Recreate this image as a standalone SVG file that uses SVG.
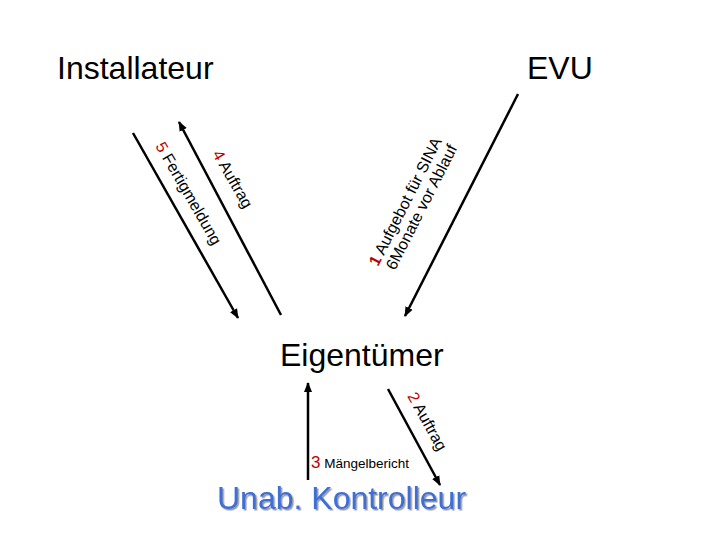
<svg xmlns="http://www.w3.org/2000/svg" width="720" height="540" viewBox="0 0 720 540">
<defs>
<marker id="ah" markerWidth="10" markerHeight="10" refX="9" refY="5" orient="auto" markerUnits="userSpaceOnUse"><path d="M0,1 L10,5 L0,9 Z" fill="#000"/></marker>
<filter id="sh"><feDropShadow dx="1.5" dy="1.5" stdDeviation="0.5" flood-color="#999"/></filter>
</defs>
<style>
text{font-family:"Liberation Sans",Arial,sans-serif}
.big{font-size:32px;fill:#000}
.lbl{font-size:16px;fill:#000}
.num{fill:#c00000}
line{stroke:#000;stroke-width:2.5}
</style>
<rect width="720" height="540" fill="#fff"/>
<g id="installateur"><text class="big" x="57" y="79">Installateur</text></g>
<g id="evu"><text class="big" x="527" y="79">EVU</text></g>
<g id="eigentuemer"><text class="big" x="280" y="366" font-size="29">Eigentümer</text></g>
<g id="kontrolleur"><text x="217" y="509" font-size="32" fill="#3a6fd8" filter="url(#sh)">Unab. Kontrolleur</text></g>
<g id="connectors">
<line x1="518" y1="94" x2="405" y2="316" marker-end="url(#ah)"/>
<line x1="133" y1="133" x2="238" y2="318" marker-end="url(#ah)"/>
<line x1="281" y1="315" x2="179" y2="122" marker-end="url(#ah)"/>
<line x1="388" y1="389" x2="440" y2="485" marker-end="url(#ah)"/>
<line x1="308" y1="480" x2="308" y2="383" marker-end="url(#ah)"/>
</g>
<g id="labels">
<text class="lbl" font-size="17" transform="translate(378,267) rotate(-63)"><tspan class="num" font-weight="bold">1</tspan> Aufgebot für SINA</text>
<text class="lbl" font-size="17" transform="translate(395,271) rotate(-63)">6Monate vor Ablauf</text>
<text class="lbl" transform="translate(155,146) rotate(60)"><tspan class="num">5</tspan> Fertigmeldung</text>
<text class="lbl" transform="translate(212,154) rotate(60)"><tspan class="num">4</tspan> Auftrag</text>
<text class="lbl" transform="translate(407,396) rotate(61)"><tspan class="num">2</tspan> Auftrag</text>
<text x="311" y="468" font-size="13.5"><tspan class="num" font-size="17">3</tspan> Mängelbericht</text>
</g>
</svg>
